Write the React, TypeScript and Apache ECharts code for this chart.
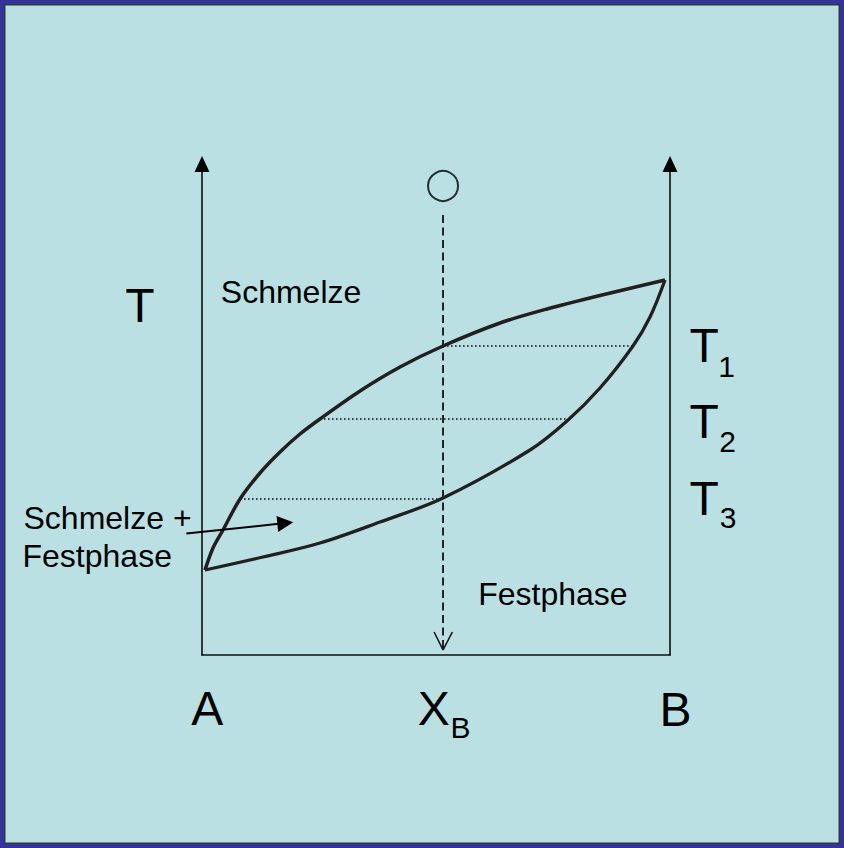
import React, { useEffect, useRef } from "react";
import * as echarts from "echarts";

// Composition axis: 0 = pure A, 100 = pure B. Temperature axis: arbitrary units.
const liquidusX = [0.64, 2.35, 4.49, 8.12, 12.39, 16.67, 20.94, 25.21, 33.76, 42.31, 51.5, 63.68, 73.72, 85.04, 98.93];
const liquidusY = [17.0, 21.4, 25.0, 31.2, 36.4, 40.6, 44.2, 47.2, 52.8, 57.6, 61.8, 66.4, 69.2, 71.9, 75.0];

const solidusX = [0.64, 13.03, 25.21, 38.03, 51.5, 70.09, 77.99, 85.04, 92.09, 95.73, 98.93];
const solidusY = [17.0, 19.6, 22.4, 26.6, 31.4, 41.0, 46.8, 53.4, 61.8, 67.6, 75.0];

// Tie lines T1, T2, T3: [temperature, x from, x to]
const tieTemps = [61.8, 47.2, 31.2];
const tieFrom = [51.5, 25.21, 8.12];
const tieTo = [92.09, 77.99, 51.5];

// Cooling path of the sample with composition X_B
const sampleX = 51.5;
const sampleStartY = 88;
const sampleEndY = 1.0;
const sampleCircleY = 93.8;
const arrowHeadX = [49.6, 51.5, 53.5];
const arrowHeadY = [4.6, 1.0, 4.6];

// Annotation arrow pointing into the two-phase region
const pointerFrom = [-3.35, 24.3];
const pointerTo = [17.8, 26.38];

const axisLabels = ["A", "X", "B"];
const tempLabels = ["T", "T", "T"];
const tempSubs = ["1", "2", "3"];
const regionLabels = ["Schmelze", "Schmelze +", "Festphase", "Festphase"];

const FONT = '"Liberation Sans", Arial, Helvetica, sans-serif';
const INK = "#231f20";

export default function App() {
  const ref = useRef<HTMLDivElement>(null);

  useEffect(() => {
    document.body.style.margin = "0";
    if (!ref.current) return;
    const chart = echarts.init(ref.current, null, { renderer: "svg" });

    const pairs = (xs: number[], ys: number[]) => xs.map((x, i) => [x, ys[i]]);

    const tieSeries = tieTemps.map((t, i) => ({
      type: "line",
      data: [
        [tieFrom[i], t],
        [tieTo[i], t],
      ],
      symbol: "none",
      lineStyle: { color: "#111", width: 1.6, type: [1.6, 2.4] },
      z: 3,
    }));

    const text = (t: string, x: number, y: number, size: number, align = "left") => ({
      type: "text",
      x,
      y,
      style: {
        text: t,
        fontSize: size,
        fontFamily: FONT,
        fill: "#000",
        align,
        verticalAlign: "middle",
      },
    });

    const graphics = [
      text(tempLabels[0], 140, 305.2, 48, "center"),
      text(axisLabels[0], 207.2, 708.9, 48, "center"),
      text(axisLabels[1], 433.8, 708.2, 48, "center"),
      text("B", 460.5, 727.8, 30, "center"),
      text(axisLabels[2], 675.5, 709.0, 48, "center"),
      text(tempLabels[0], 704.2, 345.9, 48, "center"),
      text(tempSubs[0], 726.5, 366.8, 30, "center"),
      text(tempLabels[1], 704.2, 421.5, 48, "center"),
      text(tempSubs[1], 727.5, 441.5, 30, "center"),
      text(tempLabels[2], 704.2, 498.2, 48, "center"),
      text(tempSubs[2], 728, 517.8, 30, "center"),
      text(regionLabels[0], 220.8, 292.1, 32),
      text(regionLabels[1], 23.5, 517.8, 32),
      text(regionLabels[2], 22.5, 556.1, 32),
      text(regionLabels[3], 478.2, 593.8, 32),
    ];

    const yAxisBase = {
      type: "value",
      min: 0,
      max: 98.2,
      splitLine: { show: false },
      axisTick: { show: false },
      axisLabel: { show: false },
      axisLine: {
        show: true,
        onZero: false,
        symbol: ["none", "triangle"],
        symbolSize: [15, 16],
        lineStyle: { color: "#000", width: 1.5 },
      },
    };

    chart.setOption({
      animation: false,
      backgroundColor: "transparent",
      grid: { left: 202, right: 174, top: 164, bottom: 193, containLabel: false },
      xAxis: {
        type: "value",
        min: 0,
        max: 100,
        splitLine: { show: false },
        axisTick: { show: false },
        axisLabel: { show: false },
        axisLine: { show: true, onZero: false, lineStyle: { color: "#111", width: 1.6 } },
      },
      yAxis: [
        { ...yAxisBase, position: "left" },
        { ...yAxisBase, position: "right" },
      ],
      graphic: graphics,
      series: [
        {
          type: "line",
          name: "Liquidus",
          data: pairs(liquidusX, liquidusY),
          symbol: "none",
          smooth: 0.3,
          clip: false,
          lineStyle: { color: INK, width: 3.5 },
          z: 5,
        },
        {
          type: "line",
          name: "Solidus",
          data: pairs(solidusX, solidusY),
          symbol: "none",
          smooth: 0.35,
          clip: false,
          lineStyle: { color: INK, width: 3.3 },
          z: 5,
        },
        ...tieSeries,
        {
          type: "line",
          data: [
            [sampleX, sampleStartY],
            [sampleX, sampleEndY],
          ],
          symbol: "none",
          clip: false,
          lineStyle: { color: "#111", width: 1.8, type: [8, 4.5] },
          z: 4,
        },
        {
          type: "line",
          data: pairs(arrowHeadX, arrowHeadY),
          symbol: "none",
          clip: false,
          lineStyle: { color: "#111", width: 1.6 },
          z: 4,
        },
        {
          type: "scatter",
          data: [[sampleX, sampleCircleY]],
          symbol: "circle",
          symbolSize: 30,
          clip: false,
          itemStyle: { color: "rgba(0,0,0,0)", borderColor: "#000", borderWidth: 2 },
          z: 4,
        },
        {
          type: "lines",
          coordinateSystem: "cartesian2d",
          clip: false,
          symbol: ["none", "triangle"],
          symbolSize: 16,
          lineStyle: { color: "#000", width: 2, opacity: 1 },
          data: [{ coords: [pointerFrom, pointerTo] }],
          z: 6,
        },
      ],
    });

    return () => chart.dispose();
  }, []);

  return (
    <div style={{ position: "relative", width: 844, height: 848, background: "#bbe0e3", overflow: "hidden" }}>
      <div ref={ref} style={{ position: "absolute", left: 0, top: 0, width: 844, height: 848 }} />
      <div
        style={{
          position: "absolute",
          left: 0,
          top: 0,
          width: 844,
          height: 848,
          boxSizing: "border-box",
          border: "4px solid #333399",
          boxShadow: "inset 0 0 0 1.5px #2e3a3a",
          pointerEvents: "none",
        }}
      />
    </div>
  );
}
